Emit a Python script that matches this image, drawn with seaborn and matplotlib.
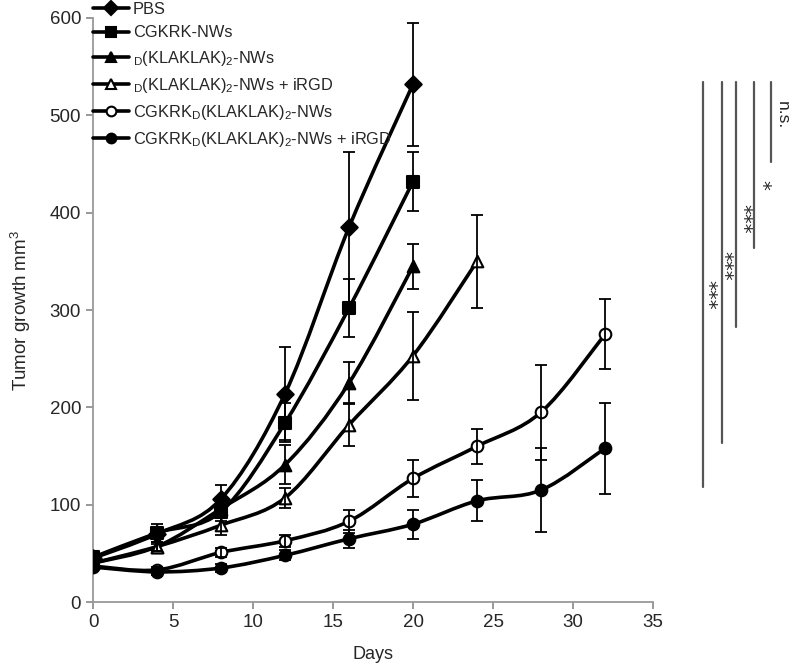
import numpy as np
import pandas as pd
import seaborn as sns
import matplotlib.pyplot as plt
from matplotlib.path import Path
from matplotlib.patches import PathPatch
from matplotlib.lines import Line2D

# data
days = [0, 4, 8, 12, 16, 20, 24, 28, 32]

pbs = [45, 70, 106, 214, 385, 532]
pbs_err = [6, 10, 14, 48, 77, 63]
cgkrk = [46, 71, 93, 184, 302, 432]
cgkrk_err = [5, 6, 10, 20, 30, 30]
klak = [40, 57, 96, 141, 225, 345]
klak_err = [4, 5, 8, 20, 22, 23]
klak_irgd = [40, 57, 79, 107, 182, 253, 350]
klak_irgd_err = [4, 5, 10, 10, 22, 45, 48]
ck_klak = [37, 33, 51, 63, 83, 127, 160, 195, 275]
ck_klak_err = [3, 3, 5, 6, 12, 19, 18, 49, 36]
ck_klak_irgd = [36, 31, 35, 48, 65, 80, 104, 115, 158]
ck_klak_irgd_err = [3, 3, 4, 5, 9, 15, 21, 43, 47]

labels = [
    "PBS",
    "CGKRK-NWs",
    r"$_\mathregular{D}$(KLAKLAK)$_\mathregular{2}$-NWs",
    r"$_\mathregular{D}$(KLAKLAK)$_\mathregular{2}$-NWs + iRGD",
    r"CGKRK$_\mathregular{D}$(KLAKLAK)$_\mathregular{2}$-NWs",
    r"CGKRK$_\mathregular{D}$(KLAKLAK)$_\mathregular{2}$-NWs + iRGD",
]
series = [pbs, cgkrk, klak, klak_irgd, ck_klak, ck_klak_irgd]
errors = [pbs_err, cgkrk_err, klak_err, klak_irgd_err, ck_klak_err, ck_klak_irgd_err]
markers = ["D", "s", "^", "^", "o", "o"]
faces = ["black", "black", "black", "white", "white", "black"]

# significance lines (x in days beyond axis, y bottom/top) and their labels
sig_x = [38.1, 39.3, 40.2, 41.3, 42.4]
sig_bottom = [118, 163, 283, 364, 452]
sig_top = 534
sig_text = ["***", "***", "***", "*", "n.s."]
sig_text_pos = [(38.4, 316), (39.45, 345), (40.6, 394), (41.8, 428), (43.1, 500)]

sns.set_style("ticks")
plt.rcParams['font.family'] = ['Liberation Sans', 'DejaVu Sans']
plt.rcParams['mathtext.fontset'] = 'custom'
plt.rcParams['mathtext.rm'] = 'Liberation Sans'

fig = plt.figure(figsize=(7.99, 6.66), dpi=100)
ax = fig.add_axes([0.1164, 0.096, 0.7009, 0.877])


def smooth_path(x, y):
    # catmull-rom style bezier through the points (like a smoothed line)
    pts = np.column_stack([x, y]).astype(float)
    verts = [pts[0]]
    codes = [Path.MOVETO]
    n = len(pts)
    for i in range(n - 1):
        p0 = pts[i - 1] if i > 0 else pts[i]
        p1 = pts[i]
        p2 = pts[i + 1]
        p3 = pts[i + 2] if i + 2 < n else pts[i + 1]
        c1 = p1 + (p2 - p0) / 6
        c2 = p2 - (p3 - p1) / 6
        verts += [c1, c2, p2]
        codes += [Path.CURVE4] * 3
    return Path(verts, codes)


rows = []
for lab, vals in zip(labels, series):
    for d, v in zip(days, vals):
        rows.append({"day": d, "value": v, "group": lab})
df = pd.DataFrame(rows)

handles = []
for lab, vals, errs, m, fc in zip(labels, series, errors, markers, faces):
    x = days[:len(vals)]
    ax.add_patch(PathPatch(smooth_path(x, vals), facecolor="none",
                           edgecolor="black", lw=2.6, zorder=2))
    sub = df[df["group"] == lab]
    sns.scatterplot(data=sub, x="day", y="value", marker=m, s=70,
                    color=fc, edgecolor="black", linewidth=1.5,
                    zorder=4, ax=ax, legend=False)
    ax.errorbar(x, vals, yerr=errs, fmt="none", ecolor="black",
                elinewidth=1.3, capsize=4, capthick=1.3, zorder=5)
    handles.append(Line2D([], [], color="black", lw=2.6, marker=m,
                          markersize=7, markerfacecolor=fc,
                          markeredgecolor="black", markeredgewidth=1.5))

for xs, yb in zip(sig_x, sig_bottom):
    ax.plot([xs, xs], [yb, sig_top], color="#555555", lw=1.6, clip_on=False)
for t, (tx, ty) in zip(sig_text, sig_text_pos):
    if t == "n.s.":
        ax.text(tx, ty, t, rotation=270, ha="center", va="center",
                fontsize=12.5, clip_on=False)
    else:
        ax.text(tx, ty, t, rotation=270, ha="center", va="center",
                fontsize=14, family="DejaVu Sans", clip_on=False)

ax.set_xlim(0, 35)
ax.set_ylim(0, 600)
ax.set_xticks(range(0, 36, 5))
ax.set_yticks(range(0, 601, 100))
ax.tick_params(axis="both", labelsize=13.5, color="#888888", length=5,
               width=1.2, direction="out")
for s in ["left", "bottom"]:
    ax.spines[s].set_color("#999999")
    ax.spines[s].set_linewidth(1.3)
sns.despine(ax=ax)

ax.set_xlabel("Days", fontsize=13, labelpad=11)
ax.set_ylabel("Tumor growth mm$^\\mathregular{3}$", fontsize=13.5)
ax.yaxis.set_label_coords(-0.108, 0.5)

fig.legend(handles, labels, loc="upper left", bbox_to_anchor=(0.106, 1.009),
           frameon=False, fontsize=11.8, handlelength=2.2, handletextpad=0.25,
           labelspacing=0.5, borderpad=0)

plt.savefig("out.png", dpi=100)
